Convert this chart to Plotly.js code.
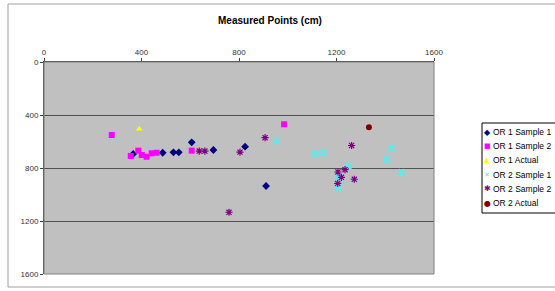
<!DOCTYPE html>
<html>
<head>
<meta charset="utf-8">
<script src="https://cdn.plot.ly/plotly-3.0.1.min.js"></script>
<style>
  html, body { margin: 0; padding: 0; background: #ffffff; }
  #chart { width: 555px; height: 291px; }
</style>
</head>
<body>
<div id="chart"></div>
<script>
// ---- Data ----
var seriesNames = ["OR 1 Sample 1", "OR 1 Sample 2", "OR 1 Actual", "OR 2 Sample 1", "OR 2 Sample 2", "OR 2 Actual"];

var or1s1X = [366, 487, 531, 553, 606, 695, 825, 911];
var or1s1Y = [694, 685, 682, 682, 606, 664, 639, 936];

var or1s2X = [278, 356, 387, 401, 421, 442, 462, 606, 985];
var or1s2Y = [551, 709, 669, 702, 715, 689, 685, 669, 470];

var or1aX = [391];
var or1aY = [506];

var or2s1X = [955, 1112, 1146, 1248, 1208, 1208, 1406, 1426, 1467];
var or2s1Y = [596, 692, 685, 785, 868, 950, 734, 648, 833];

var or2s2X = [637, 660, 804, 907, 759, 1262, 1235, 1206, 1220, 1273, 1205];
var or2s2Y = [672, 672, 680, 571, 1134, 630, 813, 830, 870, 885, 916];

var or2aX = [1333];
var or2aY = [493];

var xTickVals = [0, 400, 800, 1200, 1600];
var yTickVals = [0, 400, 800, 1200, 1600];
var chartTitle = "Measured Points (cm)";

// ---- Styles ----
var seriesColors = ["#000080", "#FF00FF", "#FFFF00", "#66E6E6", "#800080", "#800000"];
var seriesSymbols = ["diamond", "square", "triangle-up", "x", "asterisk-open", "circle"];
var legendGlyphs = ["\u25C6", "\u25A0", "\u25B2", "\u2715", "\u2731", "\u25CF"];
var legendGlyphSizes = [8, 7, 7, 7, 8, 8];

var xs = [or1s1X, or1s2X, or1aX, or2s1X, or2s2X, or2aX];
var ys = [or1s1Y, or1s2Y, or1aY, or2s1Y, or2s2Y, or2aY];

var traces = seriesNames.map(function (name, i) {
  var marker = { symbol: seriesSymbols[i], size: 6, color: seriesColors[i] };
  if (seriesSymbols[i] === "x") { marker.size = 7; marker.line = { width: 0 }; }
  if (seriesSymbols[i] === "asterisk-open") { marker.line = { width: 1.2, color: seriesColors[i] }; }
  return { type: "scatter", mode: "markers", name: name, x: xs[i], y: ys[i], marker: marker, cliponaxis: false };
});

// pixel -> paper helpers (plot area: x 44..434, y 62..274)
function px2x(px) { return (px - 44) / 390; }
function py2y(py) { return (274 - py) / 212; }

var fontFam = "Liberation Sans, Arial, sans-serif";
var axisFont = { family: fontFam, size: 8, color: "#333333" };

// custom compact legend (as in the reference)
var annotations = [];
seriesNames.forEach(function (name, i) {
  var rowY = py2y(132 + i * 14.2);
  annotations.push({
    xref: "paper", yref: "paper", x: px2x(487), y: rowY, xanchor: "center", yanchor: "middle",
    text: legendGlyphs[i], showarrow: false,
    font: { family: "DejaVu Sans, sans-serif", size: legendGlyphSizes[i], color: seriesColors[i] }
  });
  annotations.push({
    xref: "paper", yref: "paper", x: px2x(491), y: rowY, xanchor: "left", yanchor: "middle",
    text: name, showarrow: false,
    font: { family: fontFam, size: 8.5, color: "#000000" }
  });
});

var layout = {
  width: 555,
  height: 291,
  paper_bgcolor: "#ffffff",
  plot_bgcolor: "#C0C0C0",
  margin: { l: 44, r: 121, t: 62, b: 17, autoexpand: false },
  showlegend: false,
  title: {
    text: "<b>" + chartTitle + "</b>",
    font: { family: fontFam, size: 10, color: "#000000" },
    x: 270 / 555, xref: "container", xanchor: "center",
    y: 1 - 20 / 291, yref: "container", yanchor: "middle"
  },
  xaxis: {
    side: "top",
    range: [0, 1600],
    tickvals: xTickVals,
    ticktext: xTickVals.map(String),
    showgrid: false,
    zeroline: false,
    showline: true,
    linecolor: "#404040",
    linewidth: 1,
    ticks: "outside",
    ticklen: 3,
    tickcolor: "#404040",
    tickfont: axisFont,
    fixedrange: true
  },
  yaxis: {
    range: [1600, 0],
    tickvals: yTickVals,
    ticktext: yTickVals.map(String),
    showgrid: true,
    gridcolor: "#505050",
    gridwidth: 1,
    zeroline: false,
    showline: true,
    linecolor: "#404040",
    linewidth: 1,
    ticks: "outside",
    ticklen: 3,
    tickcolor: "#404040",
    tickfont: axisFont,
    fixedrange: true
  },
  annotations: annotations,
  shapes: [
    // outer chart-area border
    { type: "rect", xref: "paper", yref: "paper",
      x0: px2x(8), x1: px2x(570), y0: py2y(287), y1: py2y(4),
      line: { color: "#A0A0A0", width: 1 }, fillcolor: "rgba(0,0,0,0)", layer: "below" },
    // plot-area border
    { type: "rect", xref: "paper", yref: "paper", x0: 0, x1: 1, y0: 0, y1: 1,
      line: { color: "#808080", width: 1 }, fillcolor: "rgba(0,0,0,0)", layer: "above" },
    // legend box
    { type: "rect", xref: "paper", yref: "paper",
      x0: px2x(482), x1: px2x(570), y0: py2y(213), y1: py2y(123),
      line: { color: "#000000", width: 1 }, fillcolor: "#ffffff", layer: "below" }
  ]
};

Plotly.newPlot("chart", traces, layout, { staticPlot: true, displayModeBar: false });
</script>
</body>
</html>
